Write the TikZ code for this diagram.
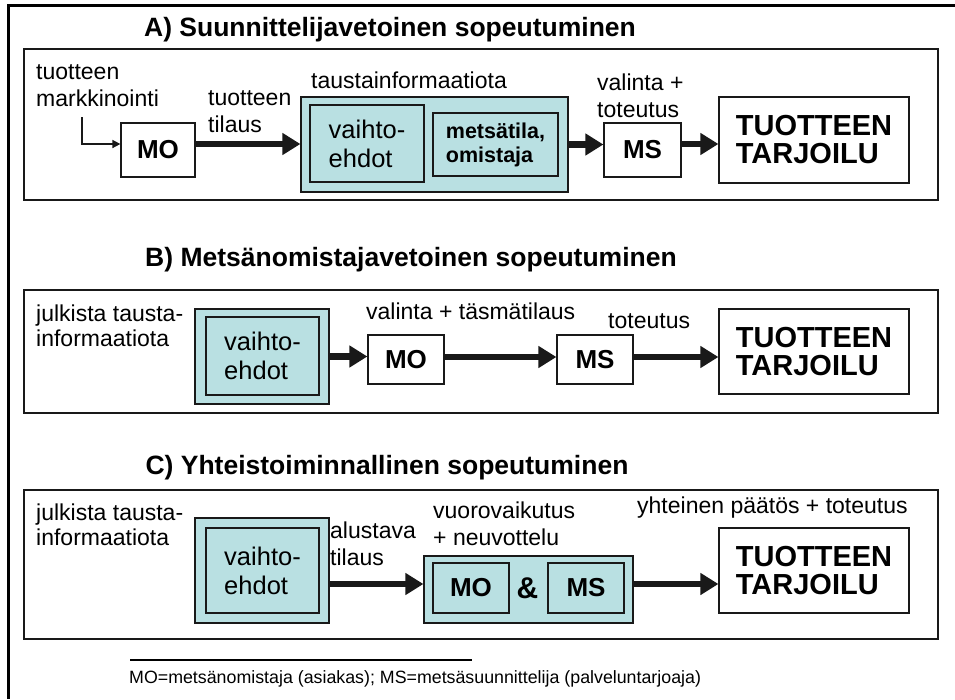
\documentclass[tikz,border=0pt]{standalone}
\usepackage{fontspec}
\setmainfont{Liberation Sans}
\usetikzlibrary{arrows.meta}
\begin{document}
\begin{tikzpicture}[x=1pt, y=-1pt, panel/.style={draw=fgDark, line width=2pt, inner sep=0pt, minimum width=914}, plain/.style={draw=fgDark, line width=1.2pt, fill=white, inner sep=0pt, font=\fontsize{26}{26}\selectfont\bfseries}, tealbox/.style={draw=fgDark, line width=1.2pt, fill=bgTeal, inner sep=0pt}, choice/.style={tealbox, align=left, font=\fontsize{25.5}{29}\selectfont}, result/.style={plain, align=left, minimum width=190, minimum height=85, font=\fontsize{29}{28}\selectfont\bfseries}, heading/.style={inner sep=0pt, font=\fontsize{26.5}{26}\selectfont\bfseries}, note/.style={align=left, anchor=west, inner sep=0pt, font=\fontsize{23}{27}\selectfont}, fat/.style={-{Triangle[length=18pt,width=21pt]}, line width=6.5pt, fgDark}, feed/.style={-{Triangle[length=8pt,width=8pt]}, line width=1.5pt, fgDark}]
\definecolor{fgDark}{rgb}{0.10,0.10,0.10}
\definecolor{bgTeal}{HTML}{B9E0E2}
\useasboundingbox (0,0) rectangle (955,699);
\draw[line width=3pt, black] (955,5) -- (8,5) -- (8,699);
% A
\node[heading] (titleA) at (390,30) {A) Suunnittelijavetoinen sopeutuminen};
\node[panel, minimum height=151] (panelA) at (481,124.5) {};
\node[plain, minimum width=74, minimum height=54] (moA) at (158,150) {MO};
\node[tealbox, minimum width=267, minimum height=95] (infoA) at (434.5,144.5) {};
\node[choice, minimum width=114, minimum height=77] (choiceA) at (367,143.5) {vaihto-\\ehdot};
\node[tealbox, align=left, minimum width=125, minimum height=63, font=\fontsize{21.5}{24}\selectfont\bfseries] (estateA) at (495.5,144.5) {metsätila,\\omistaja};
\node[plain, minimum width=77, minimum height=54] (msA) at (642.5,150) {MS};
\node[result, minimum height=86] (resultA) at (814,140) {TUOTTEEN\\TARJOILU};
\node[note] (mktA) at (36,86) {tuotteen\\markkinointi};
\node[note] (orderA) at (208,112) {tuotteen\\tilaus};
\node[note] (bgA) at (311,80) {taustainformaatiota};
\node[note] (selA) at (597,96) {valinta +\\toteutus};
\coordinate (mkt) at (82,117);
\draw[feed] (mkt) |- ([yshift=6pt]moA.west);
\draw[fat] ([yshift=6pt]moA.east) -- ([yshift=6pt]moA.east -| infoA.west);
\draw[fat] (infoA.east) -- (infoA.east -| msA.west);
\draw[fat] ([yshift=6pt]msA.east) -- ([yshift=6pt]msA.east -| resultA.west);
% B
\node[heading] (titleB) at (411,260) {B) Metsänomistajavetoinen sopeutuminen};
\node[panel, minimum height=123] (panelB) at (481,351.5) {};
\node[tealbox, minimum width=134, minimum height=95] (infoB) at (262,356.5) {};
\node[choice, minimum width=113, minimum height=78] (choiceB) at (262.5,356) {vaihto-\\ehdot};
\node[plain, minimum width=76, minimum height=49] (moB) at (406,359.5) {MO};
\node[plain, minimum width=76, minimum height=49] (msB) at (595,359.5) {MS};
\node[result] (resultB) at (814,351.5) {TUOTTEEN\\TARJOILU};
\node[note, font=\fontsize{23}{25}\selectfont] (bgB) at (36,326) {julkista tausta-\\informaatiota};
\node[note] (selB) at (366,311) {valinta + täsmätilaus};
\node[note] (doB) at (608,321) {toteutus};
\draw[fat] (infoB.east) -- (infoB.east -| moB.west);
\draw[fat] ([yshift=2.5pt]moB.east) -- ([yshift=2.5pt]moB.east -| msB.west);
\draw[fat] ([yshift=2.5pt]msB.east) -- ([yshift=2.5pt]msB.east -| resultB.west);
% C
\node[heading] (titleC) at (387,468) {C) Yhteistoiminnallinen sopeutuminen};
\node[panel, minimum height=149] (panelC) at (481,564.5) {};
\node[tealbox, minimum width=134, minimum height=105] (infoC) at (262,570.5) {};
\node[choice, minimum width=113, minimum height=85] (choiceC) at (262.5,570.5) {vaihto-\\ehdot};
\node[tealbox, minimum width=209, minimum height=67] (jointC) at (528.5,589.5) {};
\node[tealbox, minimum width=76, minimum height=50, font=\fontsize{26}{26}\selectfont\bfseries] (moC) at (471,588) {MO};
\node[tealbox, minimum width=76, minimum height=50, font=\fontsize{26}{26}\selectfont\bfseries] (msC) at (586,588) {MS};
\node[inner sep=0pt, font=\fontsize{30}{30}\selectfont\bfseries] (andC) at (527.5,588) {\&};
\node[result] (resultC) at (814,570.5) {TUOTTEEN\\TARJOILU};
\node[note, font=\fontsize{23}{25}\selectfont] (bgC) at (36,525) {julkista tausta-\\informaatiota};
\node[note] (orderC) at (330,544) {alustava\\tilaus};
\node[note] (talkC) at (433,524) {vuorovaikutus\\+ neuvottelu};
\node[note] (doC) at (637,508) {yhteinen päätös + toteutus};
\draw[fat] ([yshift=5.5pt]jointC.west -| infoC.east) -- ([yshift=5.5pt]jointC.west);
\draw[fat] ([yshift=5.5pt]jointC.east) -- ([yshift=5.5pt]jointC.east -| resultC.west);
% footnote
\coordinate (ruleL) at (130,660);
\coordinate (ruleR) at (472,660);
\draw[line width=1.5pt, black] (ruleL) -- (ruleR);
\node[note, font=\fontsize{17.8}{17}\selectfont] (legend) at (129,679) {MO=metsänomistaja (asiakas); MS=metsäsuunnittelija (palveluntarjoaja)};
\end{tikzpicture}
\end{document}
